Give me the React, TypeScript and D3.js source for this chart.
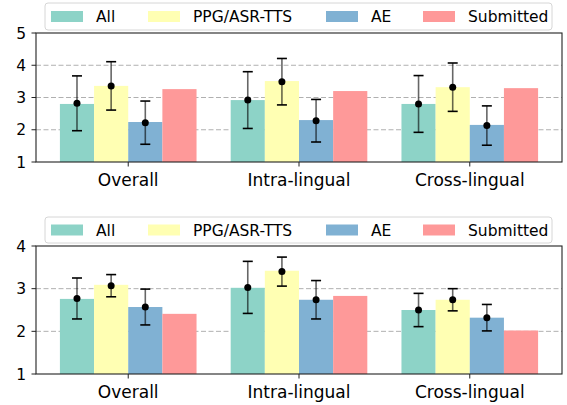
import React from "react";
import * as d3 from "d3";

const categories = ["Overall", "Intra-lingual", "Cross-lingual"];
const seriesNames = ["All", "PPG/ASR-TTS", "AE", "Submitted"];
const colors = ["#8dd3c7", "#ffffb3", "#80b1d3", "#fe9999"];

// Top panel
const topAll = [2.8, 2.92, 2.8];
const topPPG = [3.36, 3.51, 3.32];
const topAE = [2.24, 2.3, 2.15];
const topSub = [3.26, 3.2, 3.29];
const topDotAll = [2.82, 2.92, 2.8];
const topDotPPG = [3.36, 3.49, 3.32];
const topDotAE = [2.22, 2.28, 2.13];
const topErrAll = [0.85, 0.88, 0.88];
const topErrPPG = [0.75, 0.72, 0.75];
const topErrAE = [0.67, 0.66, 0.61];
const topTicks = [1, 2, 3, 4, 5];

// Bottom panel
const botAll = [2.76, 3.02, 2.5];
const botPPG = [3.09, 3.42, 2.74];
const botAE = [2.57, 2.74, 2.32];
const botSub = [2.41, 2.83, 2.02];
const botDotAll = [2.77, 3.03, 2.5];
const botDotPPG = [3.07, 3.4, 2.74];
const botDotAE = [2.57, 2.74, 2.32];
const botErrAll = [0.48, 0.61, 0.39];
const botErrPPG = [0.26, 0.34, 0.26];
const botErrAE = [0.42, 0.45, 0.31];
const botTicks = [1, 2, 3, 4];

const FONT = "DejaVu Sans, sans-serif";
const BAR_W = 0.2;

type PanelProps = {
  bars: number[][];
  dots: number[][];
  errs: number[][];
  ticks: number[];
  yDomain: [number, number];
  top: number;
  bottom: number;
  legendTop: number;
  legendBottom: number;
};

const X0 = 36;
const X1 = 562;
const legendPatchX = [51, 148, 326, 423];
const legendBox = [45, 552];

function Panel({ bars, dots, errs, ticks, yDomain, top, bottom, legendTop, legendBottom }: PanelProps) {
  const x = d3.scaleLinear().domain([-0.54, 2.54]).range([X0, X1]);
  const y = d3.scaleLinear().domain(yDomain).range([bottom, top]);
  const bw = x(BAR_W) - x(0);
  const offsets = [-1.5, -0.5, 0.5, 1.5];
  const grid = ticks.filter((t) => t > yDomain[0] && t < yDomain[1]);
  const legendMid = (legendTop + legendBottom) / 2;
  return (
    <g>
      {grid.map((t) => (
        <line key={"g" + t} x1={X0} x2={X1} y1={y(t)} y2={y(t)} stroke="#b0b0b0" strokeDasharray="5,2.5" strokeWidth={1} />
      ))}
      {bars.map((vals, si) =>
        vals.map((v, ci) => (
          <rect
            key={`b${si}-${ci}`}
            x={x(ci + offsets[si] * BAR_W - BAR_W / 2)}
            width={bw}
            y={y(v)}
            height={y(yDomain[0]) - y(v)}
            fill={colors[si]}
          />
        ))
      )}
      {dots.map((vals, si) =>
        vals.map((v, ci) => {
          const cx = x(ci + offsets[si] * BAR_W);
          const e = errs[si][ci];
          return (
            <g key={`e${si}-${ci}`}>
              <line x1={cx} x2={cx} y1={y(v + e)} y2={y(v - e)} stroke="#000" strokeOpacity={0.6} strokeWidth={1.6} />
              <line x1={cx - 5} x2={cx + 5} y1={y(v + e)} y2={y(v + e)} stroke="#000" strokeWidth={1.6} />
              <line x1={cx - 5} x2={cx + 5} y1={y(v - e)} y2={y(v - e)} stroke="#000" strokeWidth={1.6} />
              <circle cx={cx} cy={y(v)} r={3.5} fill="#000" />
            </g>
          );
        })
      )}
      <rect x={X0} y={top} width={X1 - X0} height={bottom - top} fill="none" stroke="#222" strokeWidth={1.1} />
      {ticks.map((t) => (
        <g key={"t" + t}>
          <line x1={X0 - 4.5} x2={X0} y1={y(t)} y2={y(t)} stroke="#222" strokeWidth={1} />
          <text x={X0 - 10} y={y(t)} dy="0.36em" textAnchor="end" fontSize={15.5} fontFamily={FONT} fill="#000">
            {t}
          </text>
        </g>
      ))}
      {categories.map((c, ci) => (
        <g key={"c" + ci}>
          <line x1={x(ci)} x2={x(ci)} y1={bottom} y2={bottom + 4.5} stroke="#222" strokeWidth={1} />
          <text x={x(ci)} y={bottom + 24} textAnchor="middle" fontSize={17} fontFamily={FONT} fill="#000">
            {c}
          </text>
        </g>
      ))}
      <rect
        x={legendBox[0]}
        y={legendTop}
        width={legendBox[1] - legendBox[0]}
        height={legendBottom - legendTop}
        rx={3}
        fill="#fff"
        fillOpacity={0.8}
        stroke="#d6d6d6"
        strokeWidth={1}
      />
      {seriesNames.map((s, si) => (
        <g key={"l" + si}>
          <rect x={legendPatchX[si]} y={legendMid - 5.5} width={32} height={11} fill={colors[si]} />
          <text x={legendPatchX[si] + 45} y={legendMid} dy="0.36em" fontSize={15.5} fontFamily={FONT} fill="#000">
            {s}
          </text>
        </g>
      ))}
    </g>
  );
}

export default function App() {
  return (
    <svg width={567} height={405} style={{ position: "absolute", left: 0, top: 0, background: "#fff" }}>
      <rect width={567} height={405} fill="#fff" />
      <Panel
        bars={[topAll, topPPG, topAE, topSub]}
        dots={[topDotAll, topDotPPG, topDotAE]}
        errs={[topErrAll, topErrPPG, topErrAE]}
        ticks={topTicks}
        yDomain={[1, 5]}
        top={33}
        bottom={162}
        legendTop={3}
        legendBottom={30}
      />
      <Panel
        bars={[botAll, botPPG, botAE, botSub]}
        dots={[botDotAll, botDotPPG, botDotAE]}
        errs={[botErrAll, botErrPPG, botErrAE]}
        ticks={botTicks}
        yDomain={[1, 4]}
        top={246}
        bottom={374}
        legendTop={217}
        legendBottom={243}
      />
    </svg>
  );
}
